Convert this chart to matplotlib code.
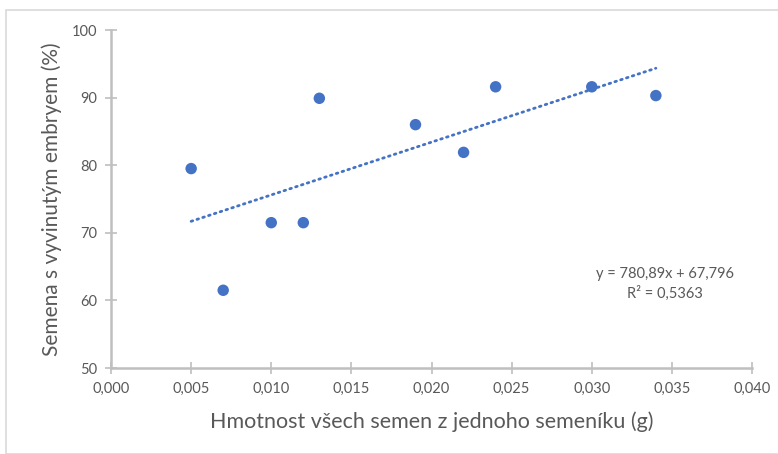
import matplotlib
matplotlib.use("Agg")
import matplotlib.pyplot as plt
from matplotlib.ticker import FuncFormatter
from matplotlib.patches import Rectangle
import numpy as np

# data
hmotnost = [0.005, 0.007, 0.010, 0.012, 0.013, 0.019, 0.022, 0.024, 0.030, 0.034]
semena = [79.5, 61.5, 71.5, 71.5, 89.9, 86.0, 81.9, 91.6, 91.6, 90.3]
slope = 780.89
intercept = 67.796
r2_text = "0,5363"

blue = '#4472C4'
grey = '#BFBFBF'
text_grey = '#595959'

plt.rcParams['font.family'] = ['Lato', 'DejaVu Sans']

fig = plt.figure(figsize=(7.78, 4.54), dpi=100)
ax = fig.add_axes([0.1427, 0.1894, 0.8239, 0.7445])

# chart area border
fig.patches.append(Rectangle((6 / 778, 0), 1, 1 - 10 / 454, transform=fig.transFigure,
                             fill=False, edgecolor='#D9D9D9', linewidth=1.2))

ax.scatter(hmotnost, semena, s=68, color=blue, zorder=3, edgecolors='none')

# linear trendline over the data range
xt = np.array([min(hmotnost), max(hmotnost)])
ax.plot(xt, slope * xt + intercept, color=blue, linestyle=(0, (0.6, 1.6)),
        linewidth=2.0, dash_capstyle='round', zorder=2)

ax.set_xlim(0, 0.04)
ax.set_ylim(50, 100)
ax.set_xticks(np.arange(0, 0.0401, 0.005))
ax.set_yticks(np.arange(50, 101, 10))
ax.xaxis.set_major_formatter(FuncFormatter(lambda v, p: f"{v:.3f}".replace('.', ',')))
ax.yaxis.set_major_formatter(FuncFormatter(lambda v, p: f"{v:.0f}"))

for s in ['top', 'right']:
    ax.spines[s].set_visible(False)
for s in ['left', 'bottom']:
    ax.spines[s].set_color(grey)
    ax.spines[s].set_linewidth(1.8)
ax.tick_params(direction='inout', length=8, width=1.2, color=grey,
               labelsize=10.5, labelcolor=text_grey, pad=6)

ax.set_xlabel('Hmotnost všech semen z jednoho semeníku (g)', fontsize=15.5,
              color=text_grey, labelpad=11)
ax.set_ylabel('Semena s vyvinutým embryem (%)', fontsize=15, color=text_grey, labelpad=7)

eq = f"y = {str(slope).replace('.', ',')}x + {str(intercept).replace('.', ',')}\nR² = {r2_text}"
ax.text(0.03457, 62.4, eq, ha='center', va='center', fontsize=10.5,
        color=text_grey, linespacing=1.4)

fig.savefig('out.png', dpi=100)
